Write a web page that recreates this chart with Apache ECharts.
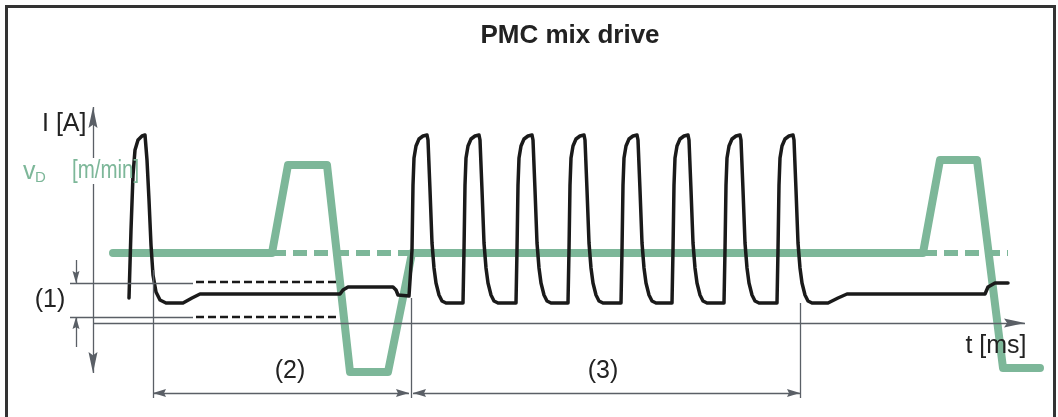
<!DOCTYPE html>
<html><head><meta charset="utf-8">
<script src="https://cdn.jsdelivr.net/npm/echarts@6/dist/echarts.min.js"></script>
<style>html,body{margin:0;padding:0;background:#fff}#c{width:1058px;height:417px}</style>
</head><body><div id="c"></div>
<script>
// ---- texts ----
const chartTitle = 'PMC mix drive';
const currentLabel = 'I [A]';
const speedLabel = ['v', 'D', '[m/min]'];
const timeLabel = 't [ms]';
const phaseLabels = ['(1)', '(2)', '(3)'];

// ---- current I (t, I) in diagram units ----
const currentStart = [[36,25],[38,93],[40,148],[42,173],[45,183],[49,187],[52,188],[54,163],[56,123],[58,78],[60,48],[63,31],[67,23],[73,20],[90,20],[99,25],[107,29],[247,29],[250,33],[255,36],[300,36],[303,33],[305,28],[316,27]];
const pulse1 = [[318,27],[319,73],[320,138],[321,165],[323,177],[326,184],[330,187],[334,188],[335,183],[337,133],[339,80],[341,55],[343,40],[346,28],[349,22],[353,20]];
const pulse2 = [[370,20],[371,73],[372,138],[373,165],[375,177],[378,184],[382,187],[386,188],[387,183],[389,133],[391,80],[393,55],[395,40],[398,28],[401,22],[405,20]];
const pulse3 = [[423,20],[424,73],[425,138],[426,165],[428,177],[431,184],[435,187],[439,188],[440,183],[442,133],[444,80],[446,55],[448,40],[451,28],[454,22],[458,20]];
const pulse4 = [[475,20],[476,73],[477,138],[478,165],[480,177],[483,184],[487,187],[491,188],[492,183],[494,133],[496,80],[498,55],[500,40],[503,28],[506,22],[510,20]];
const pulse5 = [[528,20],[529,73],[530,138],[531,165],[533,177],[536,184],[540,187],[544,188],[545,183],[547,133],[549,80],[551,55],[553,40],[556,28],[559,22],[563,20]];
const pulse6 = [[579,20],[580,73],[581,138],[582,165],[584,177],[587,184],[591,187],[595,188],[596,183],[598,133],[600,80],[602,55],[604,40],[607,28],[610,22],[614,20]];
const pulse7 = [[631,20],[632,73],[633,138],[634,165],[636,177],[639,184],[643,187],[647,188],[648,183],[650,133],[652,80],[654,55],[656,40],[659,28],[662,22],[666,20]];
const pulse8 = [[684,20],[685,73],[686,138],[687,165],[689,177],[692,184],[696,187],[700,188],[701,183],[703,133],[705,80],[707,55],[709,40],[712,28],[715,22],[719,20]];
const currentEnd = [[735,20],[745,25],[754,29],[892,29],[895,36],[902,40],[915,40]];
const band1Upper = [[103,41],[247,41]];
const band1Lower = [[103,6],[247,6]];

// ---- wire speed vD (t, v) ----
const wireSpeed = [[20,70],[179,70],[195,158],[234,158],[257,-49],[295,-49],[319,70],[830,70],[847,163],[884,163],[910,-45],[947,-45]];
const wireSpeedDashA = [[179,70],[317,70]];
const wireSpeedDashB = [[830,70],[915,70]];

// ---- annotation geometry (t, I) ----
const phaseBounds = [60, 318, 707];
const band1Levels = [40, 6];

const GREEN = '#7db799';
const INK = '#1a1a1a';
const GRID_LINE = '#5a5f66';
const FONT = '"Liberation Sans", Arial, sans-serif';
const ARROW = 'path://M5,0L10,20L5,17L0,20Z';

function end(t, v, size) {
  if (!size) return { coord: [t, v], symbol: 'none' };
  return { coord: [t, v], symbol: ARROW, symbolSize: size, symbolOffset: [0, '50%'] };
}
const annotations = [
  [end(0, -50, [9, 21]), end(0, 216, [9, 21])],             // I axis
  [end(0, 0), end(932, 0, [9, 21])],                         // t axis
  [end(-23, band1Levels[0]), end(100, band1Levels[0])],
  [end(-23, band1Levels[1]), end(100, band1Levels[1])],
  [end(-17, 63), end(-17, band1Levels[0], [7, 12])],
  [end(-17, -24), end(-17, band1Levels[1], [7, 12])],
  [end(phaseBounds[0], 53), end(phaseBounds[0], -75)],
  [end(phaseBounds[1], 25), end(phaseBounds[1], -75)],
  [end(phaseBounds[2], 20), end(phaseBounds[2], -75)],
  [end(phaseBounds[0], -70, [8, 13]), end(phaseBounds[1] - 2, -70, [8, 13])],
  [end(phaseBounds[1] + 2, -70, [8, 13]), end(phaseBounds[2], -70, [8, 13])]
];

const chart = echarts.init(document.getElementById('c'), null, { renderer: 'canvas' });
const blackLine = (data) => ({
  type: 'line', data, showSymbol: false, symbol: 'none', z: 4, silent: true,
  lineStyle: { color: INK, width: 3.5, join: 'round', cap: 'round' }
});
const currentTrace = [].concat(currentStart, pulse1, pulse2, pulse3, pulse4, pulse5, pulse6, pulse7, pulse8, currentEnd);

chart.setOption({
  animation: false,
  backgroundColor: '#fff',
  grid: { left: 0, right: 0, top: 0, bottom: 0 },
  xAxis: { type: 'value', min: -93, max: 965, show: false },
  yAxis: { type: 'value', min: -94, max: 323, show: false },
  series: [
    {
      type: 'line', data: [], z: 1, silent: true,
      markLine: {
        silent: true, animation: false, symbol: ['none', 'none'],
        label: { show: false }, emphasis: { disabled: true },
        lineStyle: { color: GRID_LINE, width: 1.3, type: 'solid' },
        itemStyle: { color: GRID_LINE },
        data: annotations
      }
    },
    { type: 'line', data: wireSpeedDashA, showSymbol: false, symbol: 'none', z: 2, silent: true,
      lineStyle: { color: GREEN, width: 6, type: [14, 7] } },
    { type: 'line', data: wireSpeedDashB, showSymbol: false, symbol: 'none', z: 2, silent: true,
      lineStyle: { color: GREEN, width: 6, type: [14, 7] } },
    { type: 'line', data: wireSpeed, showSymbol: false, symbol: 'none', z: 3, silent: true,
      lineStyle: { color: GREEN, width: 8, join: 'round', cap: 'round' } },
    Object.assign(blackLine(band1Upper), { lineStyle: { color: INK, width: 2.5, type: [8, 4] } }),
    Object.assign(blackLine(band1Lower), { lineStyle: { color: INK, width: 2.5, type: [8, 4] } }),
    blackLine(currentTrace)
  ],
  graphic: [
    { type: 'polyline', z: 100, silent: true, shape: { points: [[6.5, 417], [6.5, 6.5], [1054.5, 6.5], [1054.5, 417]] },
      style: { stroke: '#333', lineWidth: 3, fill: null } },
    { type: 'rect', z: 99, silent: true, shape: { x: 88, y: 158, width: 12, height: 26 }, style: { fill: '#fff' } },
    { type: 'text', z: 100, x: 570, y: 36, style: { text: chartTitle, font: 'bold 26px ' + FONT, fill: '#222', align: 'center', verticalAlign: 'middle' } },
    { type: 'text', z: 100, x: 42, y: 124, style: { text: currentLabel, font: '25px ' + FONT, fill: '#222', align: 'left', verticalAlign: 'middle' } },
    { type: 'text', z: 100, x: 23, y: 172, style: { text: speedLabel[0], font: '25px ' + FONT, fill: GREEN, align: 'left', verticalAlign: 'middle' } },
    { type: 'text', z: 100, x: 35, y: 178, style: { text: speedLabel[1], font: '15px ' + FONT, fill: GREEN, align: 'left', verticalAlign: 'middle' } },
    { type: 'text', z: 100, x: 72, y: 171, scaleX: 0.82, style: { text: speedLabel[2], font: '25px ' + FONT, fill: GREEN, align: 'left', verticalAlign: 'middle' } },
    { type: 'text', z: 100, x: 50, y: 300, style: { text: phaseLabels[0], font: '25px ' + FONT, fill: '#222', align: 'center', verticalAlign: 'middle' } },
    { type: 'text', z: 100, x: 290, y: 371, style: { text: phaseLabels[1], font: '25px ' + FONT, fill: '#222', align: 'center', verticalAlign: 'middle' } },
    { type: 'text', z: 100, x: 603, y: 371, style: { text: phaseLabels[2], font: '25px ' + FONT, fill: '#222', align: 'center', verticalAlign: 'middle' } },
    { type: 'text', z: 100, x: 996, y: 346, style: { text: timeLabel, font: '25px ' + FONT, fill: '#222', align: 'center', verticalAlign: 'middle' } }
  ]
});
</script>
</body></html>
